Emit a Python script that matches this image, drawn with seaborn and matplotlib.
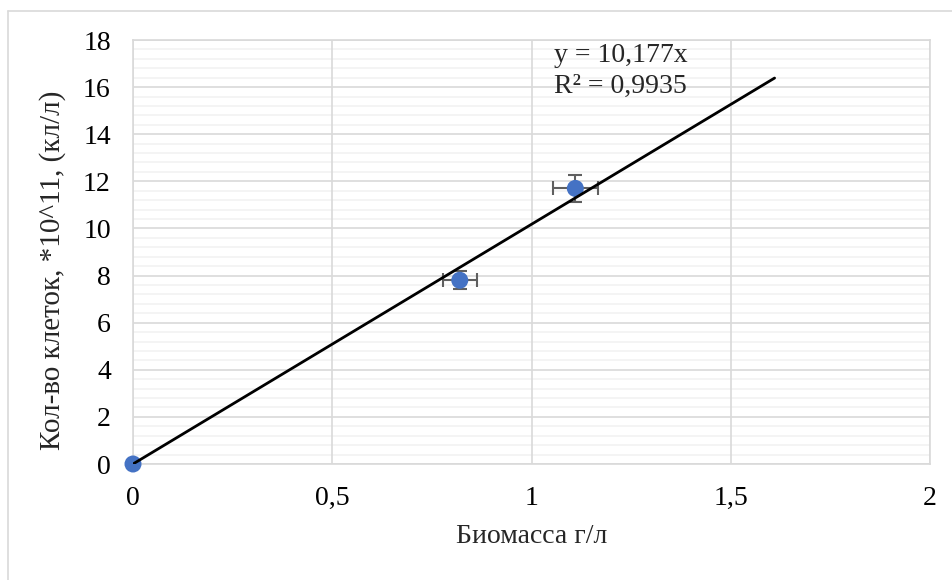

# -*- coding: utf-8 -*-
"""Calibration chart: cell count vs biomass with linear trendline"""

import numpy as np
import seaborn as sns
import matplotlib.pyplot as plt
from matplotlib.lines import Line2D
from matplotlib.ticker import MultipleLocator

# ------------------------------
# Data
# ------------------------------
biomass = [0.0, 0.82, 1.11]
cells = [0.0, 7.8, 11.7]
biomass_err = [0.0, 0.042, 0.056]
cells_err = [0.0, 0.39, 0.58]

slope = 10.177
r2 = "0,9935"
trend_x = np.array([0.0, 1.61])
trend_y = slope * trend_x

x_ticks = [0, 0.5, 1, 1.5, 2]
x_tick_labels = ["0", "0,5", "1", "1,5", "2"]
y_ticks = list(range(0, 19, 2))

# ------------------------------
# Style
# ------------------------------
sns.set_theme(style="white")
plt.rcParams["font.family"] = ["Liberation Serif", "DejaVu Serif"]
FS = 20
GRID_MAJOR = "#d9d9d9"
GRID_MINOR = "#f2f2f2"

fig = plt.figure(figsize=(9.53, 5.8), dpi=100)
ax = fig.add_axes([133 / 953, 116 / 580, 797 / 953, 424 / 580])

# error bars under the markers, trendline on top
ax.errorbar(biomass, cells, xerr=biomass_err, yerr=cells_err, fmt="none",
            ecolor="#5f5f5f", elinewidth=1.5, capsize=5, capthick=1.5, zorder=3)
sns.scatterplot(x=biomass, y=cells, color="#4472C4", s=150, edgecolor="none",
                ax=ax, zorder=4, clip_on=False)
sns.lineplot(x=trend_x, y=trend_y, color="black", linewidth=2, ax=ax, zorder=5)

ax.set_xlim(0, 2)
ax.set_ylim(0, 18)
ax.set_xticks(x_ticks)
ax.set_xticklabels(x_tick_labels)
ax.set_yticks(y_ticks)
ax.yaxis.set_minor_locator(MultipleLocator(0.4))

ax.grid(which="major", axis="both", color=GRID_MAJOR, linewidth=1.2, linestyle="-")
ax.grid(which="minor", axis="y", color=GRID_MINOR, linewidth=1.2, linestyle="-")
ax.set_axisbelow(True)
# draw x (vertical) gridlines after the light minor y lines
ax.yaxis.set_zorder(0.4)
ax.xaxis.set_zorder(0.6)
for side in ax.spines.values():
    side.set_color(GRID_MAJOR)
    side.set_linewidth(1.2)

ax.tick_params(axis="both", which="both", length=0, labelsize=FS, colors="black")
ax.tick_params(axis="y", pad=16)
ax.tick_params(axis="x", pad=16)

ax.set_xlabel("Биомасса г/л", fontsize=FS, labelpad=9)
ax.set_ylabel("Кол-во клеток, *10^11, (кл/л)", fontsize=21)
ax.yaxis.set_label_coords(-0.084, 0.4575)

ax.text(0.528, 0.948, f"y = {slope:.3f}x".replace(".", ","), transform=ax.transAxes,
        fontsize=FS, va="baseline", ha="left")
ax.text(0.528, 0.875, f"R² = {r2}", transform=ax.transAxes,
        fontsize=FS, va="baseline", ha="left")

# chart-area frame (only left and top edges visible in the crop)
fig.add_artist(Line2D([8 / 953, 8 / 953], [0, 1 - 11 / 580], color=GRID_MAJOR, lw=1.2))
fig.add_artist(Line2D([8 / 953, 1], [1 - 11 / 580, 1 - 11 / 580], color=GRID_MAJOR, lw=1.2))

fig.savefig("out.png", dpi=100, facecolor="white")
